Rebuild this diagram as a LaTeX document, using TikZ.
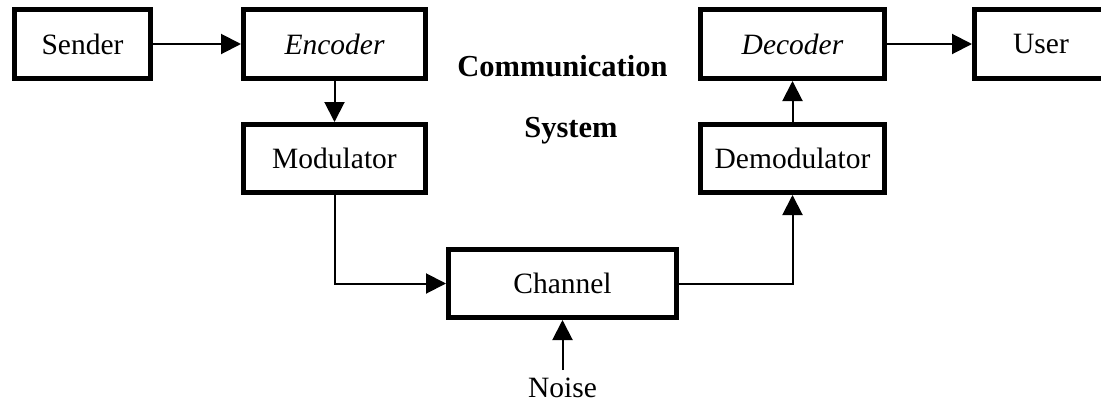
\documentclass[tikz,border=0pt]{standalone}
\usepackage{fontspec}
\setmainfont{Liberation Serif}
\usetikzlibrary{arrows.meta}
\begin{document}
\begin{tikzpicture}[x=1pt,y=-1pt,
  blk/.style={draw=black,line width=5pt,minimum height=69pt,inner sep=0pt,font=\fontsize{29.5}{34}\selectfont},
  conn/.style={line width=2pt,-{Triangle[length=20pt,width=20pt]}},
  lbl/.style={font=\fontsize{29.5}{34}\selectfont,inner sep=0pt}]
\useasboundingbox (0,0) rectangle (1101,402);
\node[blk,minimum width=136pt] (sender) at (82.5,44) {Sender};
\node[blk,minimum width=182pt] (encoder) at (334.5,44) {\itshape Encoder};
\node[blk,minimum width=182pt,minimum height=68pt] (modulator) at (334.5,158.5) {Modulator};
\node[blk,minimum width=228pt,minimum height=68pt] (channel) at (562.5,283.5) {Channel};
\node[blk,minimum width=184pt,minimum height=68pt] (demod) at (792.5,158.5) {Demodulator};
\node[blk,minimum width=184pt] (decoder) at (792.5,44) {\itshape Decoder};
\node[blk,minimum width=133pt] (user) at (1041,44) {User};
\node[lbl,anchor=base] (noise) at (562.5,397) {Noise};
\coordinate (noisetop) at (562.5,370);
\node[lbl,anchor=base,font=\fontsize{30.5}{34}\selectfont\bfseries] (comm) at (562.5,76) {Communication};
\node[lbl,anchor=base,font=\fontsize{30.5}{34}\selectfont\bfseries] (sys) at (571,137) {System};
\draw[conn] (sender) -- (encoder);
\draw[conn] (encoder) -- (modulator);
\draw[conn] (modulator.south) |- (channel.west);
\draw[conn] (channel.east) -| (demod.south);
\draw[conn] (demod) -- (decoder);
\draw[conn] (decoder) -- (user);
\draw[conn] (noisetop) -- (channel.south);
\end{tikzpicture}
\end{document}
